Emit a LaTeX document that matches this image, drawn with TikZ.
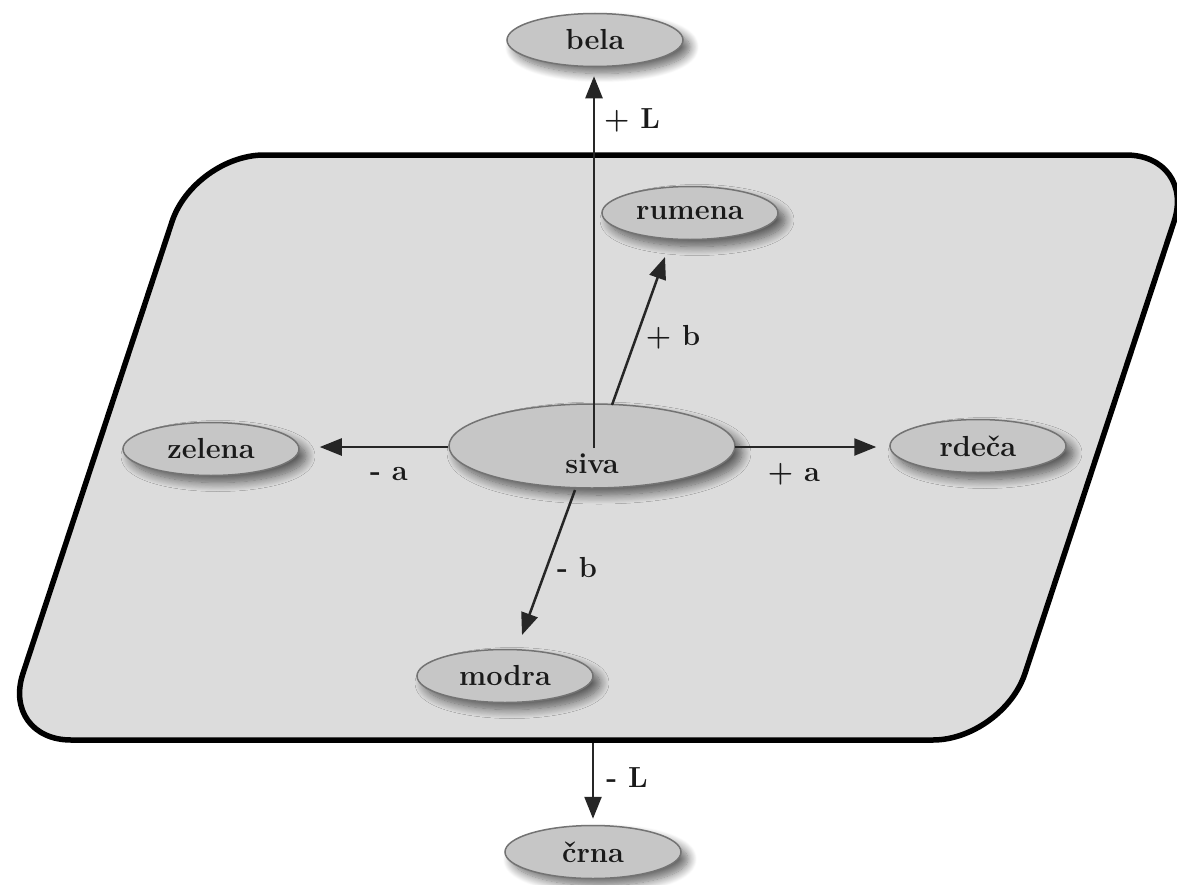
\documentclass[tikz,border=0pt]{standalone}
\usetikzlibrary{arrows.meta,shapes.geometric,shadows.blur}
\definecolor{plane}{HTML}{DCDCDC}
\definecolor{bubble}{HTML}{C6C6C6}
\definecolor{rim}{HTML}{737373}
\definecolor{ink}{HTML}{262626}
\definecolor{letters}{HTML}{1A1A1A}
\newcommand\lblfont{\fontsize{29bp}{34bp}\selectfont\bfseries}
\begin{document}
\begin{tikzpicture}[x=1bp,y=-1bp,
  colour/.style={ellipse, draw=rim, line width=1.5bp, fill=bubble,
    minimum width=176bp, minimum height=53bp, inner sep=0pt,
    text=letters, font=\lblfont,
    blur shadow={shadow xshift=7bp, shadow yshift=-7bp,
      shadow blur radius=9bp, shadow blur steps=12, shadow opacity=60}},
  txt/.style={text=letters, font=\lblfont, inner sep=0pt},
  conn/.style={draw=ink, line width=2.5bp,
    -{Triangle[length=22bp,width=17bp]}}]
\useasboundingbox (0,0) rectangle (1177,885);

% colour plane
\draw[line width=5.5bp, fill=plane, rounded corners=70bp]
  (194,155) -- (1196,155) -- (1003,740) -- (1,740) -- cycle;

% colour ellipses
\node[colour] (bela)   at (595,40)  {bela};
\node[colour] (rumena) at (690,213) {rumena};
\node[colour] (zelena) at (211,449) {zelena};
\node[colour] (rdeca)  at (978,446) {rde\v{c}a};
\node[colour] (modra)  at (505,676) {modra};
\node[colour] (crna)   at (593,852) {\v{c}rna};
\node[colour, minimum width=286bp, minimum height=84bp] (siva) at (592,446) {};
\node[txt] (sivatext) at (592,464) {siva};

% axis start and end points
\coordinate (Lup)    at (594,448);
\coordinate (Ldown)  at (593,743);
\coordinate (bplus)  at (612,405);
\coordinate (bplusE) at (665,257);
\coordinate (bminus) at (575,490);
\coordinate (bminusE) at (522,635);
\coordinate (aminus) at (448,447);
\coordinate (aplus)  at (735,447);

% axes
\draw[conn, shorten >=9bp] (Lup) -- (Lup |- bela.south);
\draw[conn, shorten >=6bp] (Ldown) -- (Ldown |- crna.north);
\draw[conn] (bplus) -- (bplusE);
\draw[conn] (bminus) -- (bminusE);
\draw[conn, shorten >=20bp] (aminus) -- (aminus -| zelena.east);
\draw[conn, shorten >=13bp] (aplus) -- (aplus -| rdeca.west);

% axis labels
\node[txt] (lLp) at (632,120) {+ L};
\node[txt] (lLm) at (627,778) {- L};
\node[txt] (lbp) at (673,337) {+ b};
\node[txt] (lbm) at (577,568) {- b};
\node[txt] (lam) at (389,474) {- a};
\node[txt] (lap) at (794,474) {+ a};
\end{tikzpicture}
\end{document}
